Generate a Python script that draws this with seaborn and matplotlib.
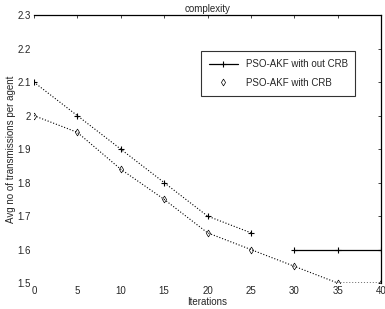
import seaborn as sns
from matplotlib import pyplot as plt
from matplotlib.lines import Line2D
import numpy as np
import pandas as pd

# data
iters = [0, 5, 10, 15, 20, 25, 30, 35, 40]
no_crb = [2.1, 2.0, 1.9, 1.8, 1.7, 1.65, 1.6, 1.6, 1.6]
with_crb = [2.0, 1.95, 1.84, 1.75, 1.65, 1.6, 1.55, 1.5, 1.5]
y_ticks = [1.5, 1.6, 1.7, 1.8, 1.9, 2.0, 2.1, 2.2, 2.3]
y_labels = ['1.5', '1.6', '1.7', '1.8', '1.9', '2', '2.1', '2.2', '2.3']

sns.set_style('white')
plt.rcParams['font.family'] = ['Liberation Sans', 'DejaVu Sans']
plt.rcParams['font.size'] = 7

df = pd.DataFrame({'it': iters, 'a': no_crb, 'b': with_crb})
first = df[df['it'] <= 25]
last = df[df['it'] >= 30]

fig = plt.figure(figsize=(3.85, 3.09), dpi=100)
ax = fig.add_axes([0.088, 0.084, 0.902, 0.867])

sns.lineplot(data=first, x='it', y='a', ax=ax, color='k', linestyle=':',
             linewidth=0.8, marker='+', markersize=5, markeredgewidth=0.8,
             markeredgecolor='k')
sns.lineplot(data=last, x='it', y='a', ax=ax, color='k', linestyle='-',
             linewidth=0.9, marker='+', markersize=5, markeredgewidth=0.8,
             markeredgecolor='k')
sns.lineplot(data=df, x='it', y='b', ax=ax, color='k', linestyle=':',
             linewidth=0.8, marker='d', markersize=3.5, markerfacecolor='none',
             markeredgecolor='k', markeredgewidth=0.5)

ax.set_xlim(0, 40)
ax.set_ylim(1.5, 2.3)
ax.set_xticks(range(0, 41, 5))
ax.set_yticks(y_ticks)
ax.set_yticklabels(y_labels)
ax.tick_params(direction='in', length=2.5, width=0.6, labelsize=7, pad=2,
               top=True, right=True)
for s in ['left', 'bottom']:
    ax.spines[s].set_visible(False)
for s in ['top', 'right']:
    ax.spines[s].set_color('k')
    ax.spines[s].set_linewidth(0.9)

ax.set_title('complexity', fontsize=7, pad=2)
ax.set_xlabel('Iterations', fontsize=7, labelpad=1)
ax.set_ylabel('Avg no of transmissions per agent', fontsize=7, labelpad=1)

handles = [
    Line2D([], [], color='k', linestyle='-', linewidth=0.9, marker='+',
           markersize=5, markeredgewidth=0.8),
    Line2D([], [], color='k', linestyle='none', marker='d', markersize=3.5,
           markerfacecolor='none', markeredgewidth=0.5),
]
leg = ax.legend(handles, ['PSO-AKF with out CRB', 'PSO-AKF with CRB'],
                loc='upper left', bbox_to_anchor=(0.481, 0.865), fontsize=7,
                frameon=True, fancybox=False, borderpad=0.8, labelspacing=0.9,
                handlelength=3.0, borderaxespad=0)
leg.get_frame().set_edgecolor('k')
leg.get_frame().set_linewidth(0.8)

fig.savefig('out.png', dpi=100)
